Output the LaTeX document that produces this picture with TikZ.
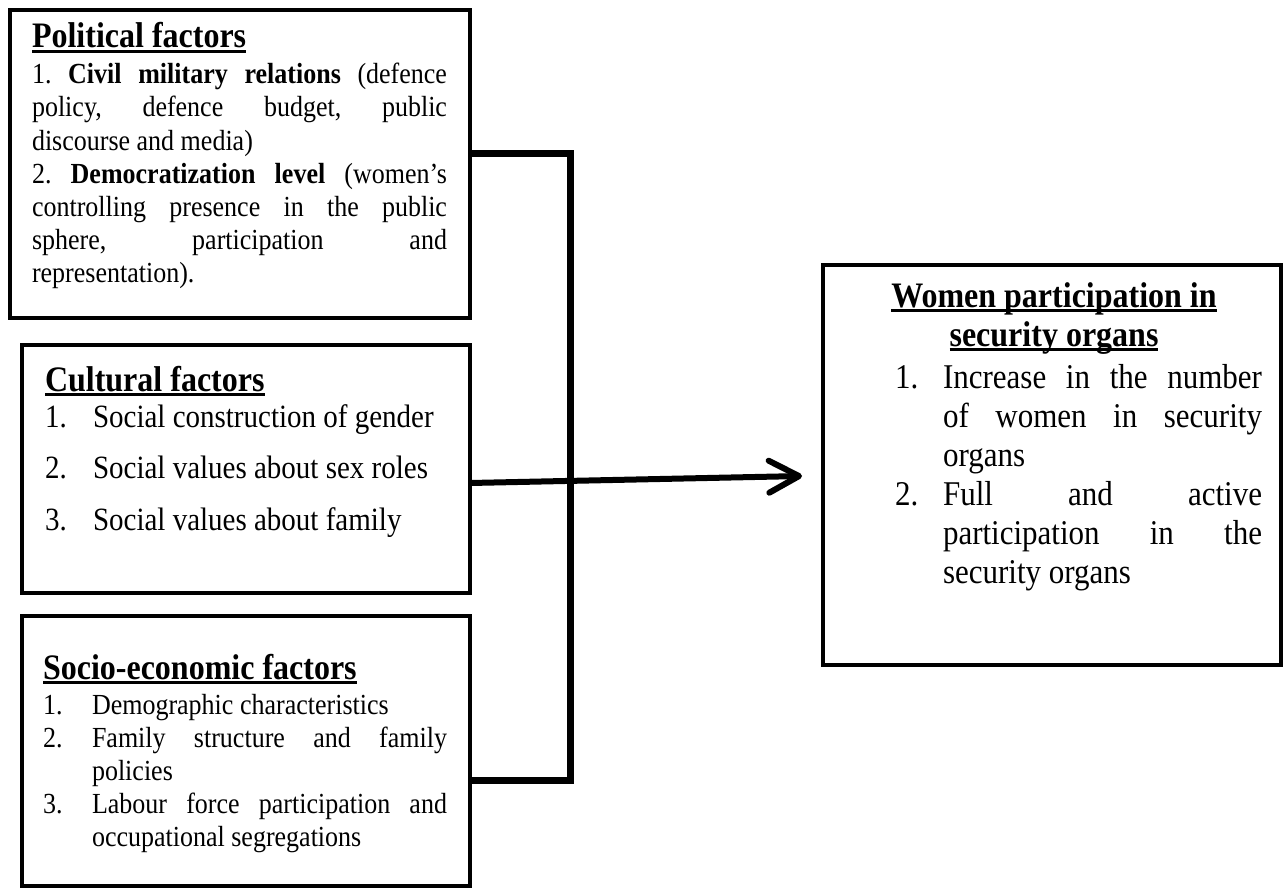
\documentclass[tikz,border=0pt]{standalone}
\usepackage{fontspec}
\usepackage{graphicx}
\setmainfont{Liberation Serif}
\usetikzlibrary{arrows.meta}
\frenchspacing
\newsavebox\ulbox
\newcommand\myul[1]{\sbox\ulbox{#1}\rlap{\rule[-4.5pt]{\wd\ulbox}{2.8pt}}\usebox\ulbox}
\newcommand\tall[1]{\scalebox{1}[1.12]{#1}}
\begin{document}
\begin{tikzpicture}[x=1pt,y=-1pt,
  box/.style={draw=black, line width=4.5pt, rectangle, inner sep=0pt, outer sep=0pt},
  txt/.style={anchor=base west, inner sep=0pt, outer sep=0pt},
  hd/.style={txt, font=\fontsize{32}{38}\selectfont\bfseries},
  bodyA/.style={txt, font=\fontsize{26}{33}\selectfont},
  bodyC/.style={txt, font=\fontsize{29}{35}\selectfont},
  bodyR/.style={txt, font=\fontsize{31}{39}\selectfont},
  link/.style={draw=black, line width=7pt, line join=miter},
  arr/.style={draw=black, line width=6pt, -{Straight Barb[length=30pt,width=32pt,round]}}
]
\useasboundingbox (0,0) rectangle (1284,888);

% boxes
\node[box, minimum width=460pt, minimum height=308pt] (pol) at (240,164) {};
\node[box, minimum width=448pt, minimum height=248pt] (cul) at (246,469) {};
\node[box, minimum width=448pt, minimum height=270pt] (soc) at (246,751) {};
\node[box, minimum width=458pt, minimum height=400pt] (out) at (1052,465) {};

% political text
\node[hd] (pT) at (32,48) {\tall{\myul{Political factors}}};
\node[bodyA] (p1) at (32,84) {\tall{\makebox[415pt][s]{1. \textbf{Civil military relations} (defence}}};
\node[bodyA] (p2) at (32,117) {\tall{\makebox[415pt][s]{policy, defence budget, public}}};
\node[bodyA] (p3) at (32,150) {\tall{discourse and media)}};
\node[bodyA] (p4) at (32,183) {\tall{\makebox[415pt][s]{2. \textbf{Democratization level} (women’s}}};
\node[bodyA] (p5) at (32,216) {\tall{\makebox[415pt][s]{controlling presence in the public}}};
\node[bodyA] (p6) at (32,249) {\tall{\makebox[415pt][s]{sphere, participation and}}};
\node[bodyA] (p7) at (32,282) {\tall{representation).}};

% cultural text
\node[hd] (cT) at (45,391) {\tall{\myul{Cultural factors}}};
\node[bodyC] (c1n) at (45,427) {\tall{1.}};
\node[bodyC] (c1) at (93,427) {\tall{Social construction of gender}};
\node[bodyC] (c2n) at (45,478) {\tall{2.}};
\node[bodyC] (c2) at (93,478) {\tall{Social values about sex roles}};
\node[bodyC] (c3n) at (45,530) {\tall{3.}};
\node[bodyC] (c3) at (93,530) {\tall{Social values about family}};

% socio-economic text
\node[hd] (sT) at (43,679) {\tall{\myul{Socio-economic factors}}};
\node[bodyA] (s1n) at (43,714) {\tall{1.}};
\node[bodyA] (s1) at (92,714) {\tall{Demographic characteristics}};
\node[bodyA] (s2n) at (43,747) {\tall{2.}};
\node[bodyA] (s2) at (92,747) {\tall{\makebox[355pt][s]{Family structure and family}}};
\node[bodyA] (s2b) at (92,780) {\tall{policies}};
\node[bodyA] (s3n) at (43,813) {\tall{3.}};
\node[bodyA] (s3) at (92,813) {\tall{\makebox[355pt][s]{Labour force participation and}}};
\node[bodyA] (s3b) at (92,846) {\tall{occupational segregations}};

% outcome text
\node[hd, anchor=base] (oT1) at (1054,307) {\tall{\myul{Women participation in}}};
\node[hd, anchor=base] (oT2) at (1054,346) {\tall{\myul{security organs}}};
\node[bodyR] (o1n) at (895,388) {\tall{1.}};
\node[bodyR] (o1) at (943,388) {\tall{\makebox[319pt][s]{Increase in the number}}};
\node[bodyR] (o1b) at (943,427) {\tall{\makebox[319pt][s]{of women in security}}};
\node[bodyR] (o1c) at (943,466) {\tall{organs}};
\node[bodyR] (o2n) at (895,505) {\tall{2.}};
\node[bodyR] (o2) at (943,505) {\tall{\makebox[319pt][s]{Full and active}}};
\node[bodyR] (o2b) at (943,544) {\tall{\makebox[319pt][s]{participation in the}}};
\node[bodyR] (o2c) at (943,583) {\tall{security organs}};

% connectors
\draw[link] ([yshift=-143pt]pol.north east) -- ++(100,0) |- ([yshift=106pt]soc.south east);
\draw[arr] ([yshift=-14pt]cul.east) -- ([xshift=-21pt,yshift=-11pt]out.west);
\end{tikzpicture}
\end{document}
